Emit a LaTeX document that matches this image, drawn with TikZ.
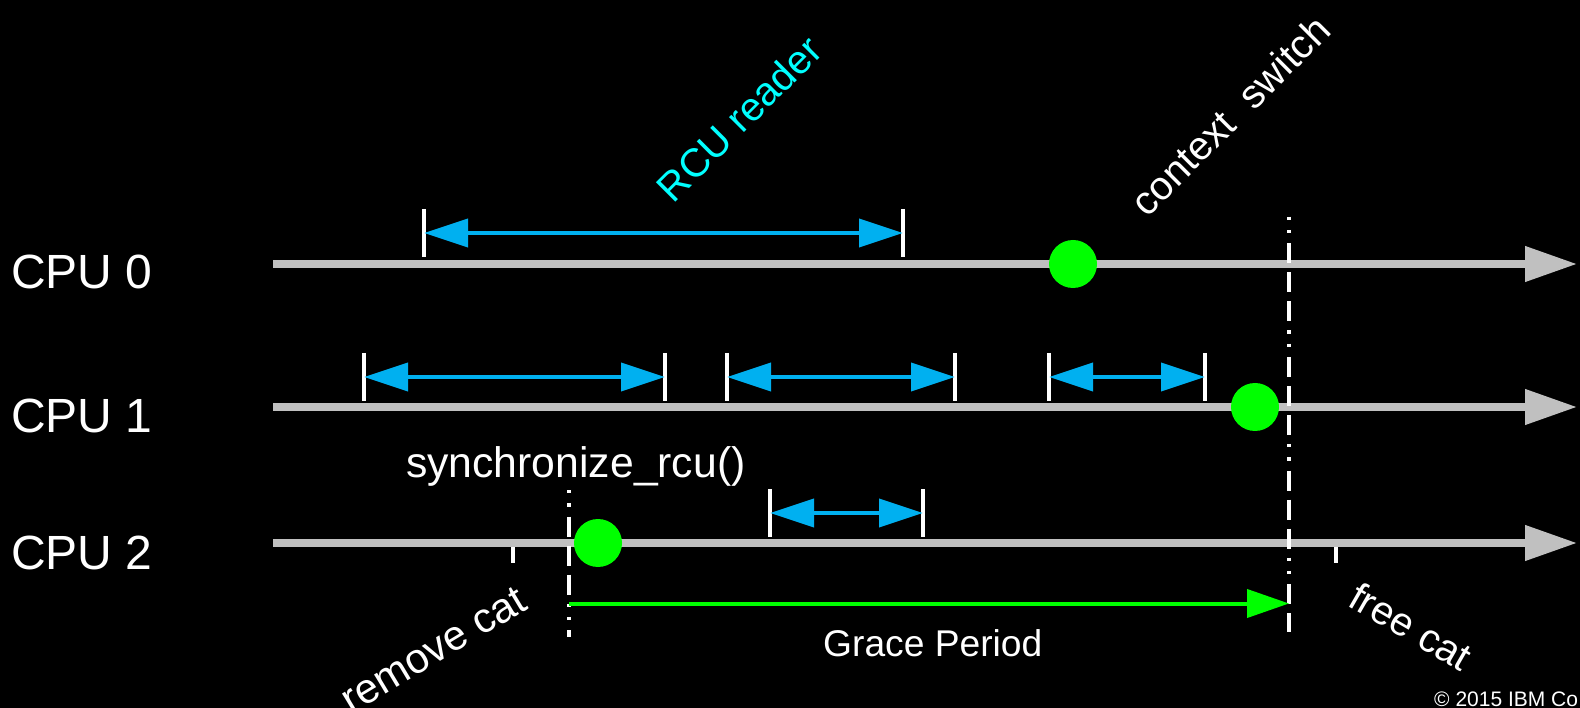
\documentclass[tikz,border=0pt]{standalone}
\usepackage{fontspec}
\setmainfont{Liberation Sans}
\usetikzlibrary{arrows.meta}
\definecolor{rcublue}{HTML}{00B0F0}
\definecolor{dotgreen}{HTML}{00FF00}
\definecolor{tlgray}{HTML}{C0C0C0}
\definecolor{rcucyan}{HTML}{00FFFF}
\begin{document}
\begin{tikzpicture}[x=1pt,y=-1pt,
  timeline/.style={draw=tlgray,line width=7.5pt,-{Triangle[length=52pt,width=34pt]}},
  readarrow/.style={draw=rcublue,line width=4pt,{Triangle[length=44pt,width=28pt]}-{Triangle[length=44pt,width=28pt]}},
  readbar/.style={draw=white,line width=3.5pt},
  qsdot/.style={circle,fill=dotgreen,minimum size=48pt,inner sep=0pt},
  gpline/.style={draw=white,line width=4pt,dash pattern=on 3.3pt off 10pt on 3.3pt off 10pt on 20pt off 9pt on 20pt off 9pt on 20pt off 9pt},
  gparrow/.style={draw=dotgreen,line width=4pt,-{Triangle[length=42pt,width=28pt]}},
  ticker/.style={draw=white,line width=4pt},
  cpulabel/.style={anchor=base west,inner sep=0pt,text=white,font=\fontsize{48}{57}\selectfont},
  slanted/.style={anchor=center,inner sep=0pt,text=white,font=\fontsize{#1}{#1}\selectfont},
  plain/.style={anchor=base west,inner sep=0pt,text=white}
]
\useasboundingbox (0,0) rectangle (1580,708);
\fill[black] (0,0) rectangle (1580,708);
\clip (0,0) rectangle (1580,708);

% CPU labels
\node[cpulabel] (cpu0) at (11,289) {CPU 0};
\node[cpulabel] (cpu1) at (11,433) {CPU 1};
\node[cpulabel] (cpu2) at (11,569) {CPU 2};

% timelines
\coordinate (t0s) at (273,264); \coordinate (t0e) at (1577,264);
\coordinate (t1s) at (273,407); \coordinate (t1e) at (1577,407);
\coordinate (t2s) at (273,543); \coordinate (t2e) at (1577,543);

% ticks on CPU 2
\coordinate (rmtop) at (513,543); \coordinate (rmbot) at (513,563);
\coordinate (frtop) at (1336,543); \coordinate (frbot) at (1336,563);
\draw[ticker] (rmtop) -- (rmbot);
\draw[ticker] (frtop) -- (frbot);

\draw[timeline] (t0s) -- (t0e);
\draw[timeline] (t1s) -- (t1e);
\draw[timeline] (t2s) -- (t2e);

% reader intervals
\foreach \nm/\xa/\xb/\yy in {ra/424/903/233, rb/364/665/377, rc/727/955/377, rd/1049/1205/377, re/770/923/513}{
  \coordinate (\nm l) at (\xa,\yy);
  \coordinate (\nm r) at (\xb,\yy);
  \coordinate (\nm lt) at (\xa,\yy-24); \coordinate (\nm lb) at (\xa,\yy+24);
  \coordinate (\nm rt) at (\xb,\yy-24); \coordinate (\nm rb) at (\xb,\yy+24);
  \draw[readbar] (\nm lt) -- (\nm lb);
  \draw[readbar] (\nm rt) -- (\nm rb);
  \draw[readarrow] (\nm l) -- (\nm r);
}

% grace period boundaries
\coordinate (gpltop) at (569,490); \coordinate (gplbot) at (569,637);
\coordinate (gprtop) at (1289,216.7); \coordinate (gprbot) at (1289,632);
\draw[gpline] (gpltop) -- (gplbot);
\draw[gpline] (gprtop) -- (gprbot);

% grace period arrow
\coordinate (gpa) at (569,603.5); \coordinate (gpb) at (1289,603.5);
\draw[gparrow] (gpa) -- (gpb);

% quiescent states
\node[qsdot] (qs0) at (1073,264) {};
\node[qsdot] (qs1) at (1255,407) {};
\node[qsdot] (qs2) at (598,543) {};

% texts
\node[slanted=40,rotate=45,text=rcucyan] (rcu) at (739,118.5) {RCU reader};
\node[slanted=40,rotate=45] (ctx) at (1230,115.5) {context\ \ switch};
\node[slanted=42,rotate=31] (rm) at (434,650) {remove cat};
\node[slanted=40,rotate=-30] (fr) at (1411,626) {free cat};
\node[plain,font=\fontsize{42.7}{50}\selectfont] (sync) at (406,477) {synchronize\_rcu()};
\node[plain,font=\fontsize{37.2}{44}\selectfont] (gp) at (823,656) {Grace Period};
\node[plain,font=\fontsize{21}{25}\selectfont] (copy) at (1434,706.5) {© 2015 IBM Co};
\end{tikzpicture}
\end{document}
